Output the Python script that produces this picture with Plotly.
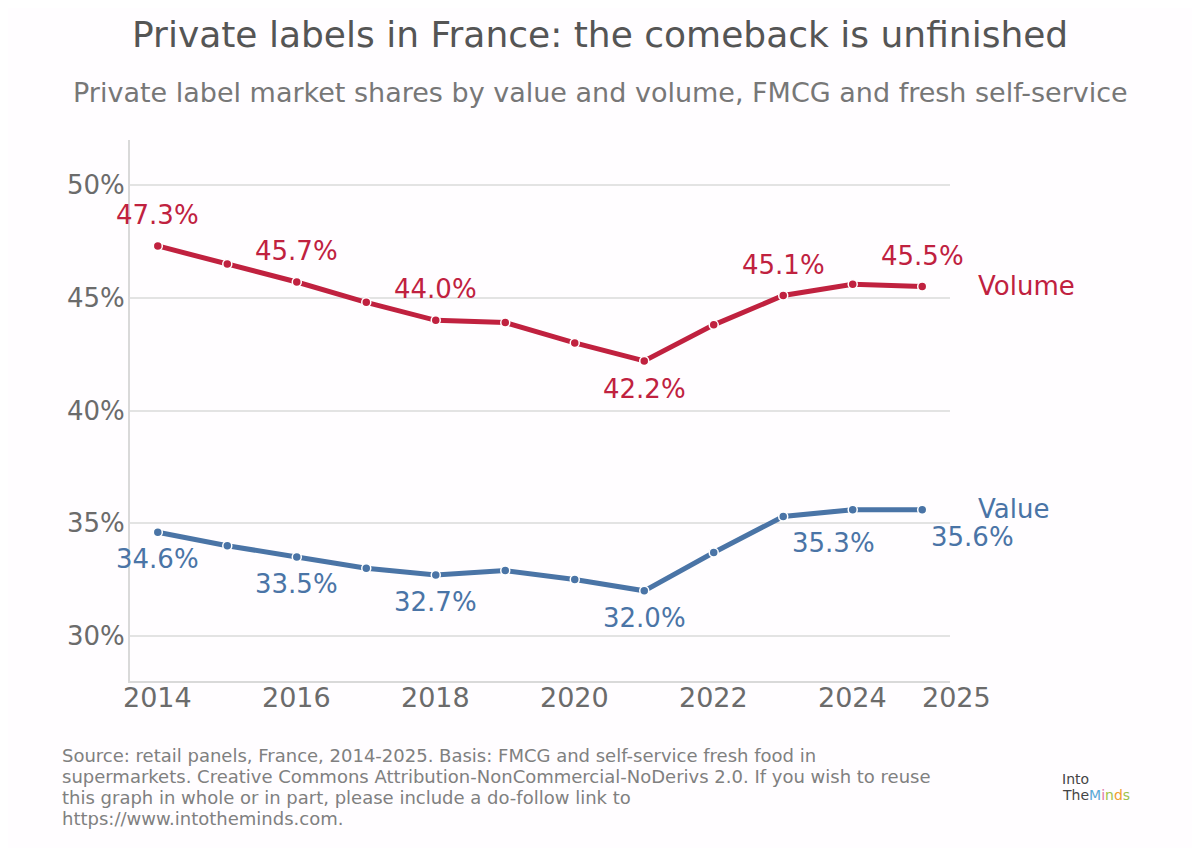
import plotly.graph_objects as go

years = [2014, 2015, 2016, 2017, 2018, 2019, 2020, 2021, 2022, 2023, 2024, 2025]
volume = [47.3, 46.5, 45.7, 44.8, 44.0, 43.9, 43.0, 42.2, 43.8, 45.1, 45.6, 45.5]
value = [34.6, 34.0, 33.5, 33.0, 32.7, 32.9, 32.5, 32.0, 33.7, 35.3, 35.6, 35.6]

label_years = [2014, 2016, 2018, 2021, 2023, 2025]
y_ticks = [30, 35, 40, 45, 50]
y_ticktext = ["30%", "35%", "40%", "45%", "50%"]
x_ticks = [2014, 2016, 2018, 2020, 2022, 2024]
x_ticktext = ["2014", "2016", "2018", "2020", "2022", "2024"]
x_end_label = "2025"

footer_lines = [
    "Source: retail panels, France, 2014-2025. Basis: FMCG and self-service fresh food in",
    "supermarkets. Creative Commons Attribution-NonCommercial-NoDerivs 2.0. If you wish to reuse",
    "this graph in whole or in part, please include a do-follow link to",
    "https://www.intotheminds.com.",
]

RED = "#c0213f"
BLUE = "#4a74a6"
FONT = "DejaVu Sans"

# plot area in figure pixels
L, T, PW, PH = 122, 132, 820, 541
W, H = 1200, 848


def px_x(X):
    return (X - L) / PW


def px_y(Y):
    return 1 - (Y - T) / PH


fig = go.Figure()
for name, ys, col in [("Volume", volume, RED), ("Value", value, BLUE)]:
    fig.add_trace(go.Scatter(
        x=years, y=ys, mode="lines+markers", name=name,
        line=dict(color=col, width=5),
        marker=dict(size=9, color=col, line=dict(color="white", width=1.5)),
        cliponaxis=False, showlegend=False,
    ))

ann = []
for yr in label_years:
    i = years.index(yr)
    v = volume[i]
    above = yr != 2021
    ann.append(dict(x=yr, y=v, text=f"{v:.1f}%", showarrow=False,
                    yshift=31 if above else -28, xanchor="center", yanchor="middle",
                    font=dict(size=26, color=RED, family=FONT)))
    w = value[i]
    xs = 50 if yr in (2023, 2025) else 0
    ann.append(dict(x=yr, y=w, text=f"{w:.1f}%", showarrow=False,
                    yshift=-27, xshift=xs, xanchor="center", yanchor="middle",
                    font=dict(size=26, color=BLUE, family=FONT)))

# series end labels
ann.append(dict(x=years[-1], y=volume[-1], text="Volume", showarrow=False,
                xanchor="left", yanchor="middle", xshift=54, yshift=1,
                font=dict(size=26, color=RED, family=FONT)))
ann.append(dict(x=years[-1], y=value[-1], text="Value", showarrow=False,
                xanchor="left", yanchor="middle", xshift=54, yshift=1,
                font=dict(size=26, color=BLUE, family=FONT)))

# x tick labels
for xv, xt in zip(x_ticks, x_ticktext):
    ann.append(dict(x=xv, y=0, yref="paper", text=xt, showarrow=False,
                    xanchor="center", yanchor="middle", yshift=-16,
                    font=dict(size=27, color="#6b6b6b", family=FONT)))
# label at the axis end
ann.append(dict(x=px_x(948), xref="paper", y=0, yref="paper", text=x_end_label,
                showarrow=False, xanchor="center", yanchor="middle", yshift=-16,
                font=dict(size=27, color="#6b6b6b", family=FONT)))

# y tick labels
for yv, yt in zip(y_ticks, y_ticktext):
    ann.append(dict(x=px_x(119), xref="paper", y=yv, yref="y", text=yt, showarrow=False,
                    xanchor="right", yanchor="middle",
                    font=dict(size=26, color="#6b6b6b", family=FONT)))

# title and subtitle
ann.append(dict(xref="paper", yref="paper", x=px_x(592), y=px_y(27),
                text="Private labels in France: the comeback is unfinished",
                showarrow=False, xanchor="center", yanchor="middle",
                font=dict(size=36, color="#555555", family=FONT)))
ann.append(dict(xref="paper", yref="paper", x=px_x(592), y=px_y(84),
                text="Private label market shares by value and volume, FMCG and fresh self-service",
                showarrow=False, xanchor="center", yanchor="middle",
                font=dict(size=27, color="#777777", family=FONT)))

# footer lines
for k, line in enumerate(footer_lines):
    ann.append(dict(xref="paper", yref="paper", x=px_x(52), y=px_y(747 + 21.3 * k),
                    xanchor="left", yanchor="middle", align="left", showarrow=False,
                    text=line, font=dict(size=18, color="#808080", family=FONT)))

# logo text
ann.append(dict(xref="paper", yref="paper", x=px_x(1052), y=px_y(771),
                xanchor="left", yanchor="middle", showarrow=False,
                text="Into", font=dict(size=14, color="#444444", family=FONT)))
ann.append(dict(xref="paper", yref="paper", x=px_x(1052), y=px_y(787),
                xanchor="left", yanchor="middle", showarrow=False,
                text=("<span style='color:#444'>The</span><span style='color:#5aa9d6'>M</span>"
                      "<span style='color:#e07aa8'>i</span><span style='color:#9cc24a'>n</span>"
                      "<span style='color:#f0a030'>d</span><span style='color:#9cc24a'>s</span>"),
                font=dict(size=14, color="#444444", family=FONT)))

fig.update_layout(
    width=W, height=H,
    paper_bgcolor="#fffdff", plot_bgcolor="#fffdff",
    margin=dict(l=L, r=W - L - PW, t=T, b=H - T - PH, autoexpand=False),
    font=dict(family=FONT, color="#6b6b6b"),
    xaxis=dict(range=[2013.6, 2025.4], tickvals=x_ticks, showticklabels=False,
               showgrid=False, zeroline=False, showline=True, linecolor="#d9d9d9",
               linewidth=2, ticks=""),
    yaxis=dict(range=[28, 52], tickvals=y_ticks, showticklabels=False,
               showgrid=True, gridcolor="#e3e3e3", gridwidth=2, zeroline=False,
               showline=True, linecolor="#d9d9d9", linewidth=2, ticks=""),
    annotations=ann,
)

fig.write_html("out.html")
